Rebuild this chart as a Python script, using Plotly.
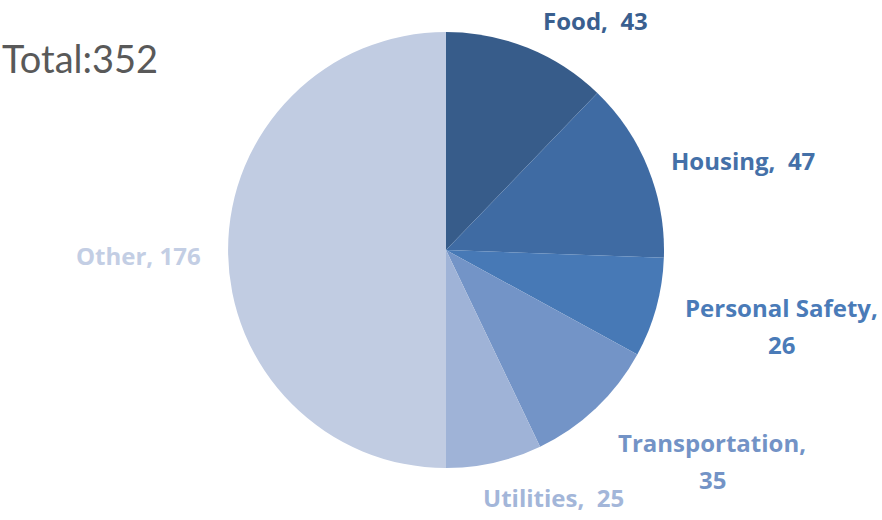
import plotly.graph_objects as go

categories = ["Food", "Housing", "Personal Safety", "Transportation", "Utilities", "Other"]
values = [43, 47, 26, 35, 25, 176]
total_label = "Total:352"

colors = ["#375C8A", "#3F6BA3", "#4779B6", "#7394C7", "#9FB3D7", "#C1CCE2"]
label_colors = ["#3A5F8F", "#4470A8", "#4A7BB8", "#7393C6", "#A3B6D9", "#C3CEE4"]
# label centre positions in pixels (layout only)
label_pos = [(595, 21), (743, 160), (781, 326), (712, 461), (553, 497), (138, 255)]
label_text = ["Food,  43", "Housing,  47", "Personal Safety,<br>26", "Transportation,<br>35",
              "Utilities,  25", "Other, 176"]
LINE_GAP = 37

W, H = 882, 520
cx, cy, r = 446, 250, 218

fig = go.Figure(go.Pie(
    labels=categories, values=values, sort=False, direction="clockwise", rotation=0,
    marker=dict(colors=colors, line=dict(width=0)),
    textinfo="none", hoverinfo="label+value",
    domain=dict(x=[(cx - r) / W, (cx + r) / W], y=[1 - (cy + r) / H, 1 - (cy - r) / H]),
    showlegend=False,
))

annotations = []
for t, (px, py), c in zip(label_text, label_pos, label_colors):
    lines = t.split("<br>")
    n = len(lines)
    for i, ln in enumerate(lines):
        ly = py + (i - (n - 1) / 2) * LINE_GAP
        annotations.append(dict(
            x=px / W, y=1 - ly / H, xref="paper", yref="paper",
            xanchor="center", yanchor="middle",
            text=f"<b>{ln}</b>", showarrow=False, align="center",
            font=dict(family="Open Sans", size=24, color=c),
        ))
annotations.append(dict(
    x=0 / W, y=1 - 58 / H, xref="paper", yref="paper",
    xanchor="left", yanchor="middle",
    text=total_label, showarrow=False, font=dict(family="Lato", size=38, color="#595959"),
))

fig.update_layout(
    width=W, height=H, margin=dict(l=0, r=0, t=0, b=0),
    paper_bgcolor="white", plot_bgcolor="white", annotations=annotations,
)
fig.write_html("out.html", config={"displayModeBar": False},
               post_script="document.body.style.margin='0px';")
